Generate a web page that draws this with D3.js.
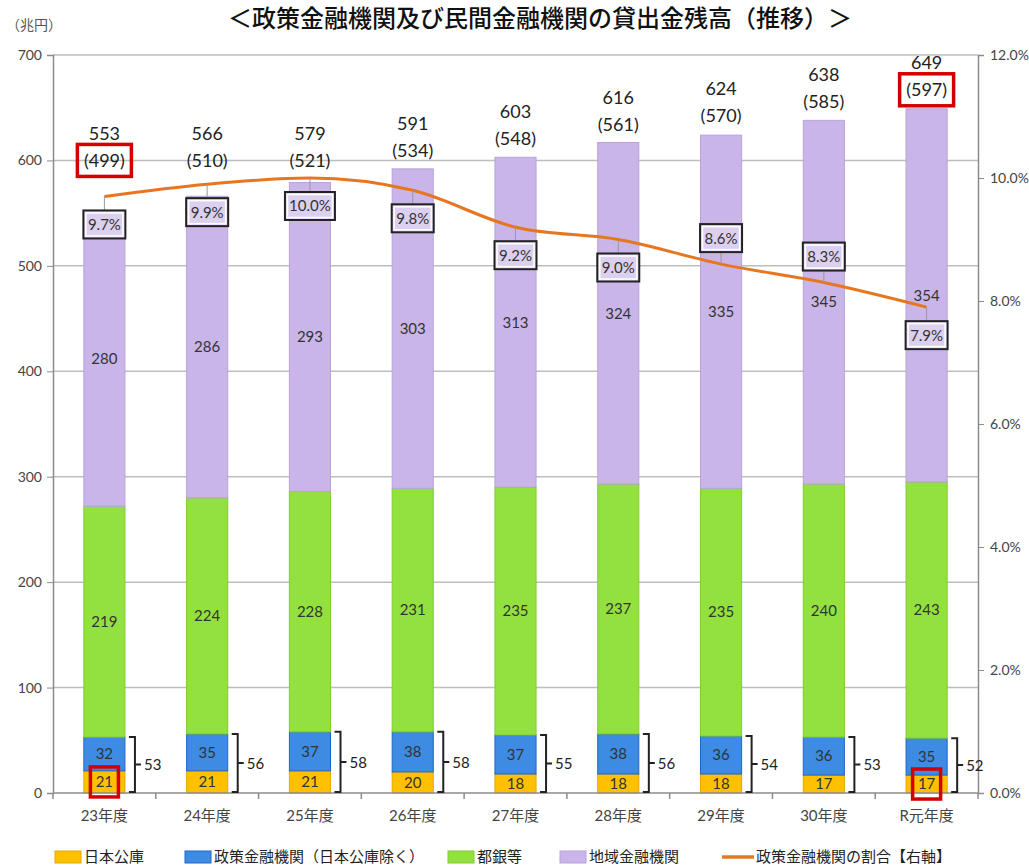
<!DOCTYPE html>
<html>
<head>
<meta charset="utf-8">
<script src="https://cdn.jsdelivr.net/npm/d3@7"></script>
<style>
  body { margin: 0; background: #fff; }
  svg { display: block; font-family: Lato, "Noto Sans CJK JP", sans-serif; }
</style>
</head>
<body>
<script>
// 年度
var years = ["23年度", "24年度", "25年度", "26年度", "27年度", "28年度", "29年度", "30年度", "R元年度"];
// 兆円
var jfc = [21, 21, 21, 20, 18, 18, 18, 17, 17];           // 日本公庫
var policyOther = [32, 35, 37, 38, 37, 38, 36, 36, 35];   // 政策金融機関(日本公庫除く)
var cityBanks = [219, 224, 228, 231, 235, 237, 235, 240, 243]; // 都銀等
var regional = [280, 286, 293, 303, 313, 324, 335, 345, 354]; // 地域金融機関
var totals = [553, 566, 579, 591, 603, 616, 624, 638, 649];
var privateTotals = [499, 510, 521, 534, 548, 561, 570, 585, 597];
var policyTotals = [53, 56, 58, 58, 55, 56, 54, 53, 52];
var policyShare = [9.7, 9.9, 10.0, 9.8, 9.2, 9.0, 8.6, 8.3, 7.9]; // %
var leftTicks = [0, 100, 200, 300, 400, 500, 600, 700];
var rightTicks = [0, 2, 4, 6, 8, 10, 12];

var seriesNames = ["日本公庫", "政策金融機関（日本公庫除く）", "都銀等", "地域金融機関"];
var seriesFill = ["#ffc000", "#3d8be2", "#93e13f", "#c9b5e8"];
var seriesStroke = ["#e6a800", "#2266c4", "#7fcb32", "#b9a2dc"];
var lineColor = "#e8761e";
var highlightIdx = [0, years.length - 1];
var shareAbove = [6, 7];   // ratio labels drawn above the line

var W = 1029, H = 867;
var m = { left: 53, right: 978, top: 55, bottom: 793 };

var svg = d3.select("body").append("svg")
    .attr("width", W)
    .attr("height", H);

var x = d3.scaleBand().domain(years).range([m.left, m.right])
    .paddingInner(0.6).paddingOuter(0.3);
var xCat = d3.scaleBand().domain(years).range([m.left, m.right]);
var y = d3.scaleLinear().domain([0, 700]).range([m.bottom, m.top]);
var yR = d3.scaleLinear().domain([0, 12]).range([m.bottom, m.top]);
var cx = function(d) { return x(d) + x.bandwidth() / 2; };

// title
svg.append("text")
    .attr("x", 540).attr("y", 27)
    .attr("text-anchor", "middle")
    .attr("font-size", 24)
    .attr("font-weight", 500)
    .attr("font-family", "'Noto Sans CJK JP', sans-serif")
    .attr("fill", "#111")
    .text("＜政策金融機関及び民間金融機関の貸出金残高（推移）＞");

svg.append("text")
    .attr("x", 6).attr("y", 30)
    .attr("font-size", 14)
    .attr("font-family", "'Noto Sans CJK JP', sans-serif")
    .attr("fill", "#555")
    .text("（兆円）");

// grid
svg.append("g").selectAll("line")
    .data(leftTicks.filter(function(t) { return t > 0; }))
    .enter().append("line")
        .attr("x1", m.left).attr("x2", m.right)
        .attr("y1", function(d) { return y(d); })
        .attr("y2", function(d) { return y(d); })
        .attr("stroke", "#bdbdbd")
        .attr("stroke-width", 1.5);

// left axis
var gL = svg.append("g").attr("transform", "translate(" + m.left + ",0)")
    .call(d3.axisLeft(y).tickValues(leftTicks).tickSize(6).tickPadding(5));
gL.select(".domain").attr("stroke", "#8c8c8c").attr("stroke-width", 1.5);
gL.selectAll(".tick line").attr("stroke", "#8c8c8c");
gL.selectAll("text").attr("font-size", 14).attr("fill", "#444")
    .attr("font-family", "'Liberation Sans Narrow', Lato, sans-serif");

// right axis
var gR = svg.append("g").attr("transform", "translate(" + m.right + ",0)")
    .call(d3.axisRight(yR).tickValues(rightTicks).tickSize(6).tickPadding(6)
        .tickFormat(function(d) { return d.toFixed(1) + "%"; }));
gR.select(".domain").attr("stroke", "#8c8c8c").attr("stroke-width", 1.5);
gR.selectAll(".tick line").attr("stroke", "#8c8c8c");
gR.selectAll("text").attr("font-size", 14).attr("fill", "#444")
    .attr("font-family", "'Liberation Sans Narrow', Lato, sans-serif");

// bars
var stackData = years.map(function(yr, i) {
    return { year: yr, jfc: jfc[i], other: policyOther[i], city: cityBanks[i], regional: regional[i] };
});
var keys = ["jfc", "other", "city", "regional"];
var stacked = d3.stack().keys(keys)(stackData);

var layers = svg.append("g").selectAll("g")
    .data(stacked)
    .enter().append("g")
        .attr("fill", function(d, i) { return seriesFill[i]; })
        .attr("stroke", function(d, i) { return seriesStroke[i]; });

layers.selectAll("rect")
    .data(function(d) { return d; })
    .enter().append("rect")
        .attr("x", function(d) { return x(d.data.year); })
        .attr("width", x.bandwidth())
        .attr("y", function(d) { return y(d[1]); })
        .attr("height", function(d) { return y(d[0]) - y(d[1]); })
        .attr("stroke-width", 1);

layers.selectAll("text")
    .data(function(d) { return d; })
    .enter().append("text")
        .attr("x", function(d) { return cx(d.data.year); })
        .attr("y", function(d) { return y((d[0] + d[1]) / 2); })
        .attr("dy", "0.35em")
        .attr("text-anchor", "middle")
        .attr("font-size", 15)
        .attr("fill", "#333")
        .attr("stroke", "none")
        .text(function(d) { return d[1] - d[0]; });

// x axis
svg.append("line")
    .attr("x1", m.left).attr("x2", m.right)
    .attr("y1", m.bottom).attr("y2", m.bottom)
    .attr("stroke", "#8c8c8c").attr("stroke-width", 1.5);
var bounds = years.map(function(d) { return xCat(d); }).concat([m.right]);
svg.append("g").selectAll("line")
    .data(bounds)
    .enter().append("line")
        .attr("x1", function(d) { return d; }).attr("x2", function(d) { return d; })
        .attr("y1", m.bottom).attr("y2", m.bottom + 6)
        .attr("stroke", "#8c8c8c").attr("stroke-width", 1.5);
svg.append("g").selectAll("text")
    .data(years)
    .enter().append("text")
        .attr("x", function(d) { return cx(d); })
        .attr("y", 821)
        .attr("text-anchor", "middle")
        .attr("font-size", 15)
        .attr("fill", "#444")
        .text(function(d) { return d; });

// brackets for policy totals
var br = svg.append("g").selectAll("g")
    .data(years)
    .enter().append("g");
br.append("path")
    .attr("fill", "none")
    .attr("stroke", "#222")
    .attr("stroke-width", 2)
    .attr("d", function(d, i) {
        var x0 = x(d) + x.bandwidth() + 4, x1 = x0 + 6;
        var yt = y(policyTotals[i]), yb = y(0) - 1, ym = (yt + yb) / 2;
        return "M" + x0 + "," + yt + "H" + x1 + "V" + yb + "H" + x0 +
            "M" + x1 + "," + ym + "H" + (x1 + 6);
    });
br.append("text")
    .attr("x", function(d) { return x(d) + x.bandwidth() + 19; })
    .attr("y", function(d, i) { return (y(policyTotals[i]) + y(0)) / 2; })
    .attr("dy", "0.35em")
    .attr("font-size", 15)
    .attr("fill", "#222")
    .text(function(d, i) { return policyTotals[i]; });

// share line
var line = d3.line()
    .x(function(d, i) { return cx(years[i]); })
    .y(function(d) { return yR(d); })
    .curve(d3.curveMonotoneX);
svg.append("path")
    .datum(policyShare)
    .attr("fill", "none")
    .attr("stroke", lineColor)
    .attr("stroke-width", 3)
    .attr("d", line);

// share labels
var sl = svg.append("g").selectAll("g")
    .data(policyShare)
    .enter().append("g")
        .attr("transform", function(d, i) {
            var dy = shareAbove.indexOf(i) >= 0 ? -26 : 28;
            return "translate(" + cx(years[i]) + "," + (yR(d) + dy) + ")";
        });
sl.append("line")
    .attr("x1", 0).attr("x2", 0)
    .attr("y1", function(d, i) { return shareAbove.indexOf(i) >= 0 ? 14 : -14; })
    .attr("y2", function(d, i) { return shareAbove.indexOf(i) >= 0 ? 26 : -28; })
    .attr("stroke", "#999").attr("stroke-width", 1);
sl.append("rect")
    .attr("x", function(d) { return d >= 10 ? -25 : -21; })
    .attr("width", function(d) { return d >= 10 ? 50 : 42; })
    .attr("y", -14).attr("height", 28)
    .attr("fill", "#dcd0f0")
    .attr("stroke", "#222").attr("stroke-width", 2);
sl.append("rect")
    .attr("x", function(d) { return d >= 10 ? -22.5 : -18.5; })
    .attr("width", function(d) { return d >= 10 ? 45 : 37; })
    .attr("y", -11.5).attr("height", 23)
    .attr("fill", "none")
    .attr("stroke", "#fff").attr("stroke-width", 1.5);
sl.append("text")
    .attr("text-anchor", "middle")
    .attr("dy", "0.36em")
    .attr("font-size", 15)
    .attr("fill", "#333")
    .text(function(d) { return d.toFixed(1) + "%"; });

// total / private labels above bars
var tl = svg.append("g").selectAll("g")
    .data(years)
    .enter().append("g")
        .attr("transform", function(d, i) {
            return "translate(" + cx(d) + "," + y(Math.max(totals[i] + 18, 600)) + ")";
        });
tl.append("text")
    .attr("text-anchor", "middle")
    .attr("dy", "0.35em")
    .attr("font-size", 18)
    .attr("fill", "#222")
    .text(function(d, i) { return "(" + privateTotals[i] + ")"; });
tl.append("text")
    .attr("text-anchor", "middle")
    .attr("y", -27)
    .attr("dy", "0.35em")
    .attr("font-size", 18)
    .attr("fill", "#222")
    .text(function(d, i) { return totals[i]; });

// red highlight boxes
highlightIdx.forEach(function(i) {
    var c = cx(years[i]);
    var yl = y(Math.max(totals[i] + 18, 600));
    svg.append("rect")
        .attr("x", c - 27).attr("y", yl - 16)
        .attr("width", 54).attr("height", 32)
        .attr("fill", "none")
        .attr("stroke", "#d40000").attr("stroke-width", 3.5);
    var yj = y(jfc[i] / 2);
    svg.append("rect")
        .attr("x", c - 14).attr("y", yj - 15)
        .attr("width", 28).attr("height", 30)
        .attr("fill", "none")
        .attr("stroke", "#d40000").attr("stroke-width", 3.5);
});

// legend
var legendX = [55, 185, 448, 560, 722];
var lg = svg.append("g").selectAll("g")
    .data(seriesNames.concat(["政策金融機関の割合【右軸】"]))
    .enter().append("g")
        .attr("transform", function(d, i) { return "translate(" + legendX[i] + ",857)"; });
lg.filter(function(d, i) { return i < 4; }).append("rect")
    .attr("x", 0).attr("y", -6)
    .attr("width", 26).attr("height", 12)
    .attr("fill", function(d, i) { return seriesFill[i]; })
    .attr("stroke", function(d, i) { return seriesStroke[i]; });
lg.filter(function(d, i) { return i === 4; }).append("line")
    .attr("x1", 0).attr("x2", 32)
    .attr("stroke", lineColor).attr("stroke-width", 3.5);
lg.append("text")
    .attr("x", function(d, i) { return i === 4 ? 34 : 29; })
    .attr("dy", "0.35em")
    .attr("font-size", 15)
    .attr("font-family", "'Noto Sans CJK JP', sans-serif")
    .attr("fill", "#222")
    .text(function(d) { return d; });
</script>
</body>
</html>
